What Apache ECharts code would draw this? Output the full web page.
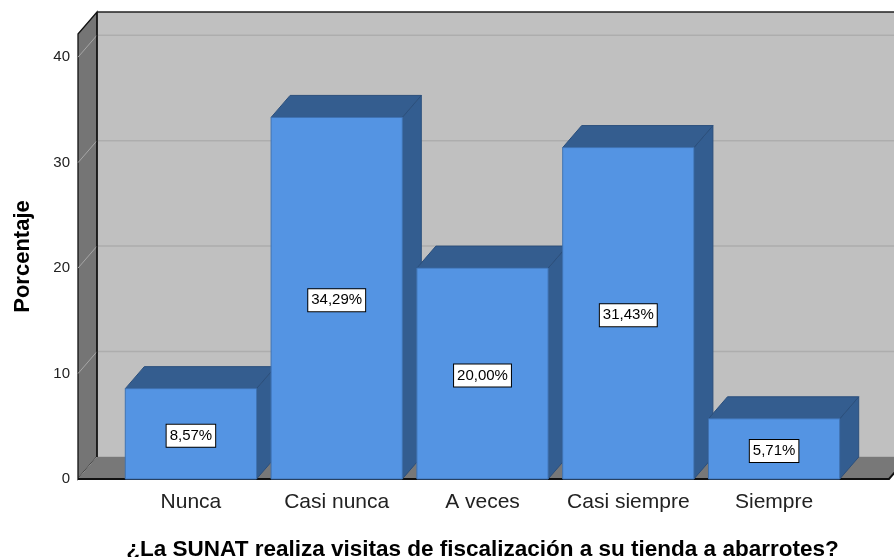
<!DOCTYPE html>
<html>
<head>
<meta charset="utf-8">
<script src="https://cdn.jsdelivr.net/npm/echarts@6/dist/echarts.min.js"></script>
<style>
  html, body { margin: 0; padding: 0; background: #fff; }
  #chart { width: 894px; height: 557px; }
</style>
</head>
<body>
<div id="chart"></div>
<script>
const categories = ['Nunca', 'Casi nunca', 'A veces', 'Casi siempre', 'Siempre'];
const percentages = [8.57, 34.29, 20.0, 31.43, 5.71];
const yTicks = [0, 10, 20, 30, 40];

// depth of the fake 3d box, in px
const DX = 19;
const DY = -22;
const PAD_LEFT = 40;
const PAD_RIGHT = 42;
const FONT = '"Liberation Sans", Arial, sans-serif';

const fmt = v => v.toFixed(2).replace('.', ',') + '%';

const renderFrame = (params, api) => {
  const cs = params.coordSys;
  const L = cs.x - PAD_LEFT;
  const R = cs.x + cs.width + PAD_RIGHT;
  const T = cs.y;
  const B = cs.y + cs.height;
  const children = [
    {
      type: 'rect',
      shape: { x: L + DX, y: T + DY, width: R - L, height: B - T },
      style: { fill: '#c0c0c0' },
    },
  ];
  yTicks.forEach((v) => {
    const y = api.coord([0, v])[1];
    children.push({
      type: 'line',
      shape: { x1: L + DX, y1: y + DY, x2: R + DX, y2: y + DY },
      style: { stroke: '#adadad', lineWidth: 1.5 },
    });
  });
  children.push({
    type: 'polygon',
    shape: { points: [[L, T], [L + DX, T + DY], [L + DX, B + DY], [L, B]] },
    style: { fill: '#757575', stroke: '#111', lineWidth: 1.3 },
  });
  yTicks.forEach((v) => {
    const y = api.coord([0, v])[1];
    children.push({
      type: 'line',
      shape: { x1: L, y1: y, x2: L + DX, y2: y + DY },
      style: { stroke: '#a6a6a6', lineWidth: 1 },
    });
  });
  children.push({
    type: 'polygon',
    shape: { points: [[L, B], [L + DX, B + DY], [R + DX, B + DY], [R, B]] },
    style: { fill: '#787878' },
  });
  children.push({
    type: 'line',
    shape: { x1: L + DX, y1: T + DY, x2: R + DX + 20, y2: T + DY },
    style: { stroke: '#222', lineWidth: 1.5 },
  });
  children.push({
    type: 'line',
    shape: { x1: L + DX, y1: T + DY, x2: L + DX, y2: B + DY },
    style: { stroke: '#111', lineWidth: 1.3 },
  });
  children.push({
    type: 'polyline',
    shape: { points: [[L, B], [R, B], [R + DX, B + DY]] },
    style: { stroke: '#111', lineWidth: 2, fill: null },
  });
  return { type: 'group', children };
};

const renderBar = (params, api) => {
  const idx = api.value(0);
  const val = api.value(1);
  const top = api.coord([idx, val]);
  const base = api.coord([idx, 0]);
  const w = api.size([1, 0])[0] * 0.9;
  const x0 = top[0] - w / 2;
  const x1 = top[0] + w / 2;
  const yt = top[1];
  const yb = base[1];
  return {
    type: 'group',
    children: [
      {
        type: 'polygon',
        shape: { points: [[x1, yt], [x1 + DX, yt + DY], [x1 + DX, yb + DY], [x1, yb]] },
        style: { fill: '#335d90', stroke: '#2b4f7c', lineWidth: 1 },
      },
      {
        type: 'polygon',
        shape: { points: [[x0, yt], [x0 + DX, yt + DY], [x1 + DX, yt + DY], [x1, yt]] },
        style: { fill: '#345d8f', stroke: '#2b4f7c', lineWidth: 1 },
      },
      {
        type: 'rect',
        shape: { x: x0, y: yt, width: w, height: yb - yt },
        style: { fill: '#5494e3', stroke: '#3f73b3', lineWidth: 1 },
      },
      {
        type: 'text',
        style: {
          text: fmt(val),
          x: top[0],
          y: (yt + yb) / 2 + 2,
          align: 'center',
          verticalAlign: 'middle',
          fill: '#000',
          fontSize: 15,
          fontFamily: FONT,
          backgroundColor: '#fff',
          borderColor: '#000',
          borderWidth: 1,
          padding: [4, 3, 3, 3],
        },
      },
    ],
  };
};

const chart = echarts.init(document.getElementById('chart'));
chart.setOption({
  animation: false,
  grid: { left: 118, right: 47, top: 34, bottom: 78, outerBoundsMode: 'none', containLabel: false },
  xAxis: {
    type: 'category',
    data: categories,
    axisLine: { show: false },
    axisTick: { show: false },
    axisLabel: { interval: 0, fontSize: 21, color: '#222', fontFamily: FONT, margin: 13 },
    name: '¿La SUNAT realiza visitas de fiscalización a su tienda a abarrotes?',
    nameLocation: 'middle',
    nameGap: 59,
    nameTextStyle: { fontSize: 22.5, fontWeight: 'bold', color: '#000', fontFamily: FONT },
  },
  yAxis: {
    type: 'value',
    min: 0,
    max: 42.2,
    interval: 10,
    offset: 40,
    axisLine: { show: false },
    axisTick: { show: false },
    splitLine: { show: false },
    axisLabel: {
      fontSize: 15,
      color: '#222',
      fontFamily: FONT,
      margin: 8,
      padding: [6, 0, 0, 0],
      formatter: v => (yTicks.includes(v) ? String(v) : ''),
    },
    name: 'Porcentaje',
    nameLocation: 'middle',
    nameGap: 44,
    nameTextStyle: { fontSize: 22, fontWeight: 'bold', color: '#000', fontFamily: FONT },
  },
  series: [
    {
      type: 'custom',
      silent: true,
      renderItem: renderFrame,
      data: [[0, 0]],
      z: 1,
    },
    {
      type: 'custom',
      renderItem: renderBar,
      data: percentages.map((v, i) => [i, v]),
      z: 2,
    },
  ],
});
</script>
</body>
</html>
